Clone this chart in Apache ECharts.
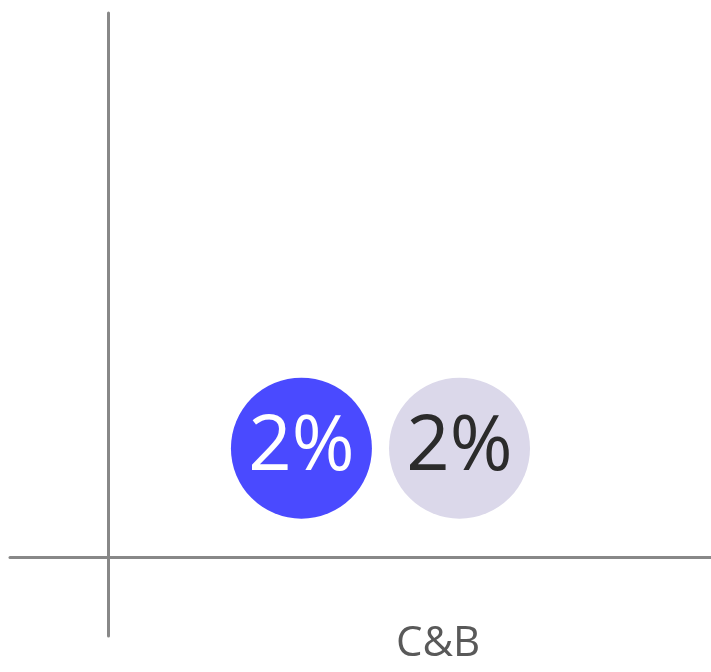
<!DOCTYPE html>
<html>
<head>
<meta charset="utf-8">
<script src="https://cdn.jsdelivr.net/npm/echarts@6/dist/echarts.min.js"></script>
<style>
html,body{margin:0;padding:0;background:#fff;}
#chart{width:711px;height:672px;}
</style>
</head>
<body>
<div id="chart"></div>
<script>
// Data
const categories = ['C&B'];
const categoryX = [1];          // category position on x axis
const seriesAValues = [2];      // percent
const seriesBValues = [2];      // percent
const seriesAX = [0.586];       // x position of group A bubble
const seriesBX = [1.065];       // x position of group B bubble

const chart = echarts.init(document.getElementById('chart'));

function pts(xs, vals){ return vals.map((v,i)=>[xs[i], v]); }

const axisLineStyle = {color:'#888888', width:3};

chart.setOption({
  animation:false,
  grid:{left:10, right:0, top:13, bottom:36, containLabel:false, outerBoundsMode:'none'},
  xAxis:{
    type:'value', min:-0.297, max:1.827,
    axisLine:{show:true, onZero:true, lineStyle:axisLineStyle},
    axisTick:{show:false},
    splitLine:{show:false},
    axisLabel:{
      customValues: categoryX,
      formatter:(v)=>{const i=categoryX.indexOf(v); return i>=0?categories[i]:'';},
      color:'#595959', fontSize:42, fontFamily:'Open Sans', margin:-13
    }
  },
  yAxis:{
    type:'value', min:-1.452, max:10,
    axisLine:{show:true, onZero:true, lineStyle:axisLineStyle},
    axisTick:{show:false},
    splitLine:{show:false},
    axisLabel:{show:false}
  },
  series:[
    {
      type:'scatter', name:'A',
      data: pts(seriesAX, seriesAValues),
      symbol:'circle', symbolSize:141,
      itemStyle:{color:'#4a4aff', opacity:1},
      label:{show:true, position:'inside', formatter:(p)=>p.value[1]+'%',
        color:'#ffffff', fontSize:76, fontFamily:'Open Sans'}
    },
    {
      type:'scatter', name:'B',
      data: pts(seriesBX, seriesBValues),
      symbol:'circle', symbolSize:141,
      itemStyle:{color:'#dbd8ea', opacity:1},
      label:{show:true, position:'inside', formatter:(p)=>p.value[1]+'%',
        color:'#2b2b2b', fontSize:76, fontFamily:'Open Sans'}
    }
  ]
});
</script>
</body>
</html>
